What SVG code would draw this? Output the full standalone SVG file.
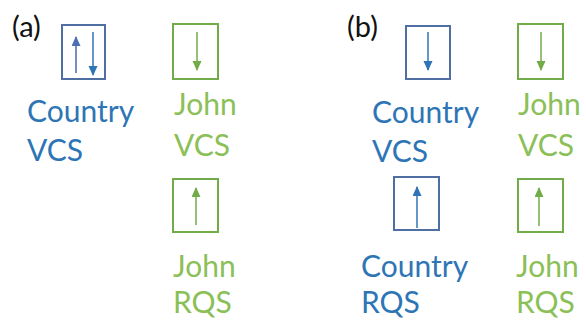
<svg xmlns="http://www.w3.org/2000/svg" width="586" height="320" viewBox="0 0 586 320">
<style>
.lbl{font-family:Lato,"Open Sans","Liberation Sans",sans-serif;font-size:30px}
.blue{fill:#2e75b6}
.green{fill:#8bbf57}
.tag{font-family:Lato,"Open Sans","Liberation Sans",sans-serif;font-size:29px;fill:#111}
.bbox{fill:none;stroke:#4f6fa3;stroke-width:2}
.gbox{fill:none;stroke:#72ac4a;stroke-width:2}
.ab{stroke:#2e75b6;stroke-width:1.5;fill:none;marker-end:url(#hb)}
.ap{stroke:#4a6aa8;stroke-width:1.5;fill:none;marker-end:url(#hp)}
.ag{stroke:#72ac4a;stroke-width:1.5;fill:none;marker-end:url(#hg)}
</style>
<defs>
<marker id="hb" markerWidth="10" markerHeight="10" refX="9" refY="4.5" orient="auto" markerUnits="userSpaceOnUse"><path d="M0,0 L10,4.5 L0,9 Z" fill="#2e75b6"/></marker>
<marker id="hp" markerWidth="10" markerHeight="10" refX="9" refY="4.5" orient="auto" markerUnits="userSpaceOnUse"><path d="M0,0 L10,4.5 L0,9 Z" fill="#4a6fb5"/></marker>
<marker id="hg" markerWidth="10" markerHeight="10" refX="9" refY="4.5" orient="auto" markerUnits="userSpaceOnUse"><path d="M0,0 L10,4.5 L0,9 Z" fill="#72ac4a"/></marker>
</defs>
<text class="tag" x="12" y="37">(a)</text>
<text class="tag" x="347" y="37">(b)</text>
<g id="a-country-vcs">
<rect class="bbox" x="62" y="25" width="43" height="54"/>
<text class="lbl blue" x="27" y="122">Country</text>
<text class="lbl blue" x="27" y="161">VCS</text>
</g>
<g id="a-john-vcs">
<rect class="gbox" x="173" y="24" width="45" height="55"/>
<text class="lbl green" x="174" y="115">John</text>
<text class="lbl green" x="174" y="156">VCS</text>
</g>
<g id="a-john-rqs">
<rect class="gbox" x="173" y="179" width="45" height="53"/>
<text class="lbl green" x="173" y="277">John</text>
<text class="lbl green" x="173" y="313">RQS</text>
</g>
<g id="b-country-vcs">
<rect class="bbox" x="406" y="26" width="44" height="53"/>
<text class="lbl blue" x="372" y="123">Country</text>
<text class="lbl blue" x="372" y="162">VCS</text>
</g>
<g id="b-john-vcs">
<rect class="gbox" x="518" y="24" width="45" height="55"/>
<text class="lbl green" x="518" y="115">John</text>
<text class="lbl green" x="518" y="156">VCS</text>
</g>
<g id="b-country-rqs">
<rect class="bbox" x="394" y="177" width="45" height="53"/>
<text class="lbl blue" x="361" y="277">Country</text>
<text class="lbl blue" x="361" y="313">RQS</text>
</g>
<g id="b-john-rqs">
<rect class="gbox" x="518" y="179" width="45" height="53"/>
<text class="lbl green" x="516" y="277">John</text>
<text class="lbl green" x="516" y="313">RQS</text>
</g>
<g id="connectors">
<line class="ap" x1="76" y1="73" x2="76" y2="37"/>
<line class="ab" x1="93" y1="32" x2="93" y2="75"/>
<line class="ag" x1="197" y1="32" x2="197" y2="70"/>
<line class="ag" x1="196" y1="225" x2="196" y2="188"/>
<line class="ab" x1="428" y1="32" x2="428" y2="70"/>
<line class="ag" x1="541" y1="32" x2="541" y2="70"/>
<line class="ab" x1="417" y1="228" x2="417" y2="187"/>
<line class="ag" x1="539" y1="226" x2="539" y2="188"/>
</g>
</svg>
